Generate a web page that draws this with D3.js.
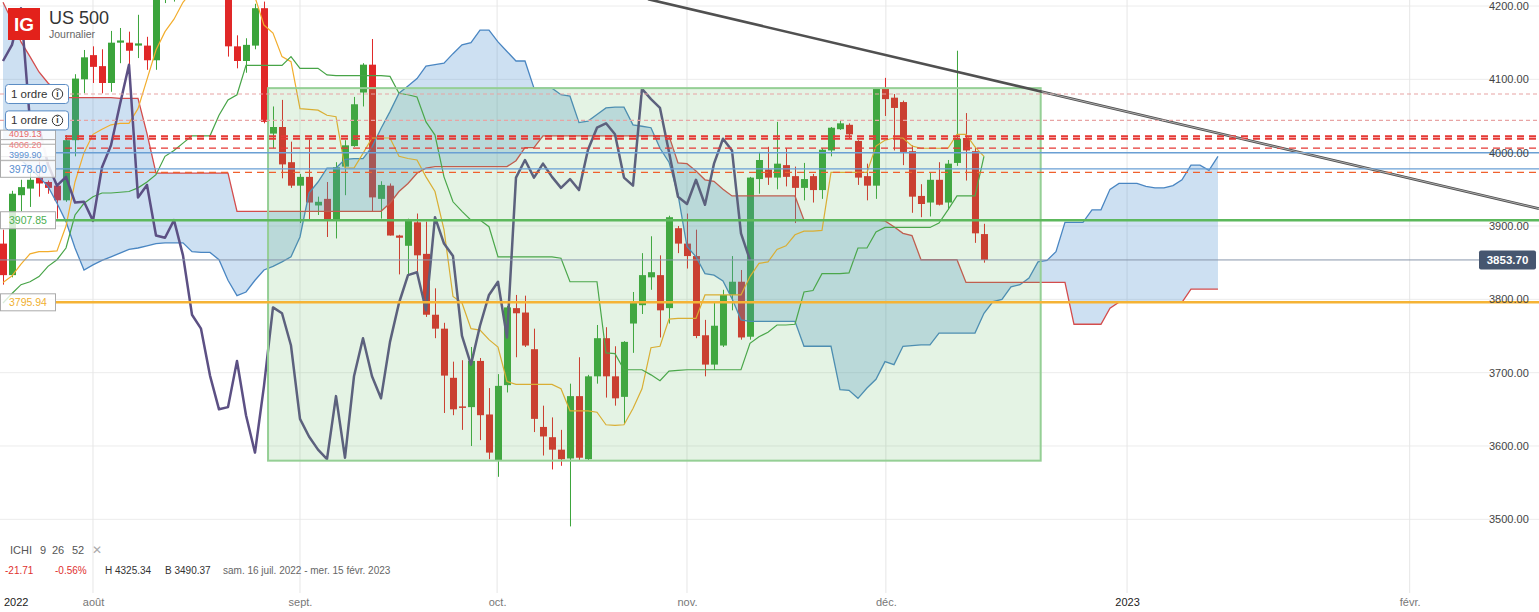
<!DOCTYPE html>
<html>
<head>
<meta charset="utf-8">
<script src="https://cdn.jsdelivr.net/npm/d3@7"></script>
<style>
  body { margin: 0; background: #fff; font-family: "Liberation Sans", Arial, sans-serif; }
  svg { display: block; }
</style>
</head>
<body>
<script>
// US 500 daily bars, one per weekday from 18 juil. to 16 déc. 2022
const opens = [3876,3833,3942,3951,3966,3960,3955,3935,4017,4100,
  4133,4118,4095,4150,4150,4146,4146,4126,4211,4216,
  4280,4297,4305,4274,4284,4226,4145,4125,4146,4197,
  4026,4035,3987,3955,3967,3928,3937,3907,3981,4009,
  4082,4120,3937,3955,3887,3873,3905,3862,3779,3760,
  3693,3654,3653,3716,3643,3580,3683,3788,3782,3732,
  3626,3612,3595,3583,3668,3582,3695,3747,3695,3667,
  3767,3792,3830,3833,3788,3897,3876,3859,3751,3711,
  3737,3806,3824,3749,3964,3977,3966,3983,3968,3952,
  3968,3949,4003,4032,4038,4016,3968,3955,4088,4075,
  4069,4002,3941,3932,3963,3932,3986,4020,4002,3889];
const highs = [3895,3948,3963,3972,4012,3962,3958,4024,4107,4140,
  4145,4141,4166,4170,4165,4188,4158,4218,4258,4282,
  4302,4325.34,4310,4293,4287,4230,4160,4156,4203,4206,
  4063,4072,4015,3971,4018,3940,3960,3987,4017,4076,
  4122,4155,3961,3958,3888,3910,3917,3906,3815,3768,
  3715,3717,3735,3720,3679,3698,3791,3806,3805,3760,
  3655,3639,3622,3685,3721,3697,3765,3762,3736,3743,
  3810,3863,3886,3860,3914,3900,3917,3895,3772,3797,
  3813,3859,3840,3967,4001,4008,4042,4006,3981,3986,
  3971,4006,4035,4044,4040,4017,3985,4088,4102,4080,
  4071,4010,3957,3973,3987,3990,4139,4054,4008,3903];
const lows = [3820,3830,3920,3926,3940,3944,3910,3933,3995,4081,
  4095,4081,4083,4122,4120,4129,4113,4113,4204,4206,
  4258,4277,4254,4262,4218,4131,4115,4109,4141,4040,
  4006,3965,3952,3904,3908,3915,3885,3883,3942,4008,
  4063,3920,3910,3887,3834,3832,3830,3776,3747,3645,
  3642,3622,3600,3608,3582,3558,3673,3721,3735,3619,
  3587,3568,3573,3490.37,3581,3580,3685,3666,3655,3630,
  3727,3780,3813,3748,3767,3863,3842,3747,3695,3704,
  3735,3785,3745,3745,3944,3956,3950,3954,3904,3935,
  3932,3937,3995,4031,4019,3956,3935,3937,4050,4003,
  3983,3918,3912,3913,3928,3922,3982,3962,3877,3850];
const closes = [3833,3944,3953,3963,3958,3952,3935,4017,4101,4130,
  4117,4095,4150,4153,4139,4149,4126,4212,4216,4280,
  4297,4305,4274,4284,4229,4145,4125,4147,4197,4042,
  4035,3984,3955,3967,3932,3933,3907,3980,4010,4066,
  4120,3939,3956,3887,3884,3908,3860,3779,3760,3696,
  3650,3653,3716,3642,3591,3682,3789,3781,3737,3637,
  3613,3595,3582,3668,3584,3695,3747,3695,3665,3742,
  3795,3833,3837,3785,3912,3876,3859,3750,3711,3764,
  3806,3824,3748,3966,3990,3966,3985,3967,3952,3964,
  3949,4004,4034,4040,4025,3966,3955,4087,4073,4061,
  4001,3940,3930,3963,3929,3985,4019,4003,3890,3853.7];

// Ichimoku 9 26 52
const tenkan = [3823,3832,3848,3862,3865,3865,3866,3900,3960,4000,
  4025,4032,4038,4040,4040,4060,4100,4140,4165,4182,
  4205,4220,4232,4240,4240,4232,4225,4218,4212,4174,
  4163,4131,4124,4060,4059,4058,4051,4049,3979,3979,
  3999,4020,4020,4020,3995,3992,3990,3967,3947,3895,
  3804,3795,3760,3758,3745,3735,3688,3684,3684,3684,
  3684,3684,3678,3648,3648,3648,3646,3629,3628,3629,
  3651,3678,3734,3736,3773,3774,3774,3774,3806,3806,
  3806,3806,3806,3831,3849,3851,3868,3873,3888,3893,
  3893,3894,3973,3973,3973,3973,3973,4009,4017,4020,
  4020,4009,4006,4006,4006,4006,4025,4025,4008,3995];
const kijun = [3795,3808,3820,3824,3831,3845,3854,3870,3915,3931,
  3940,3945,3945,3946,3947,3952,3960,3970,3995,4003,
  4013,4023,4023,4023,4051,4072,4079,4119,4119,4119,
  4119,4119,4131,4115,4115,4115,4106,4105,4105,4105,
  4105,4105,4105,4104,4081,4079,4076,4042,4024,3967,
  3933,3920,3908,3908,3899,3858,3858,3858,3858,3858,
  3858,3858,3856,3824,3824,3824,3824,3727,3726,3704,
  3704,3704,3697,3689,3702,3703,3704,3704,3704,3704,
  3704,3704,3704,3740,3749,3755,3765,3765,3766,3810,
  3812,3835,3835,3835,3836,3870,3870,3892,3898,3898,
  3898,3898,3898,3898,3904,3922,3941,3941,3941,3995];
const senkouA = [4013,4001,3990,3979,3967,3954,3931,3906,3870,3840,
  3847,3853,3858,3863,3868,3870,3873,3876,3877,3877,
  3877,3865,3864,3864,3854,3826,3805,3810,3826,3840,
  3845,3851,3858,3885,3945,3960,3979,3979,3991,3992,
  3992,4008,4033,4056,4081,4091,4101,4118,4120,4122,
  4135,4147,4150,4167,4167,4151,4138,4125,4125,4088,
  4088,4088,4079,4077,4041,4043,4052,4061,4062,4062,
  4038,4036,4034,4006,3987,3943,3872,3858,3835,3833,
  3825,3801,3772,3770,3770,3770,3770,3770,3770,3736,
  3736,3736,3736,3677,3676,3665,3679,3691,3715,3711,
  3736,3737,3738,3738,3754,3754,3754,3754,3754,3781,
  3797,3800,3817,3820,3829,3851,3853,3865,3905,3905,
  3905,3922,3922,3950,3958,3958,3958,3954,3952,3952,
  3955,3963,3983,3983,3976,3995];
const senkouB = [4205,4180,4151,4131,4110,4095,4083,4075,4075,4075,
  4075,4075,4075,4074,4074,4074,4026,3972,3972,3972,
  3972,3972,3972,3972,3972,3972,3920,3920,3920,3920,
  3920,3920,3920,3920,3920,3920,3920,3920,3920,3920,
  3920,3920,3920,3931,3947,3958,3972,3979,3981,3981,
  3981,3981,3981,3981,3981,3981,3981,3989,4007,4007,
  4023,4023,4023,4023,4023,4023,4023,4023,4023,4023,
  4023,4023,4023,4023,4023,3986,3985,3975,3963,3961,
  3950,3941,3941,3941,3941,3941,3941,3941,3941,3908,
  3908,3908,3908,3908,3908,3908,3908,3908,3907,3899,
  3890,3887,3854,3854,3854,3854,3854,3823,3823,3823,
  3823,3823,3823,3823,3823,3823,3823,3823,3823,3766,
  3766,3766,3766,3788,3796,3796,3796,3796,3796,3796,
  3796,3796,3814,3814,3814,3814];
const chikouShift = 26;

// axes
const priceTicks = [3500, 3600, 3700, 3800, 3900, 4000, 4100, 4200];
const monthTickIdx = [10, 33, 54.9, 76, 98.1, 124.9, 156.3];
const monthTickLabels = ["août", "sept.", "oct.", "nov.", "déc.", "2023", "févr."];

// drawings on the chart
const orderLevels = [4080, 4044];
const dashedLevels = [4022.5, 4019.13, 4006.20, 3973];
const blueLevels = [3999.90, 3978.00];
const tagLevels = [4019.13, 4006.20, 3999.90, 3978.00, 3907.85, 3795.94];
const tagColors = ["#e86a6a", "#ee8080", "#5b8fd0", "#5b8fd0", "#4caf50", "#f0b030"];
const greenLevel = 3907.85;
const orangeLevel = 3795.94;
const lastPrice = 3853.70;
const boxIdx = [29.45, 115.3];
const boxPrice = [4088, 3580];
const trendIdx = [71.67, 170.67];
const trendPrice = [4209.3, 3923.7];

const W = 1539, H = 612;
const svg = d3.select("body").append("svg").attr("width", W).attr("height", H);

const x = d3.scaleLinear().domain([0, 170.67]).range([3, 1539]);
const y = d3.scaleLinear().domain([3500, 4200]).range([519.33, 6]);

const defs = svg.append("defs");
defs.append("clipPath").attr("id", "plot")
  .append("rect").attr("x", 0).attr("y", 0).attr("width", W).attr("height", 540);
defs.append("clipPath").attr("id", "outbox")
  .append("rect").attr("x", x(boxIdx[1]) + 1).attr("y", 0).attr("width", W).attr("height", 540);

// grid
const grid = svg.append("g");
grid.selectAll(".hg").data(priceTicks).enter().append("line")
  .attr("x1", 0).attr("x2", W).attr("y1", d => y(d)).attr("y2", d => y(d))
  .attr("stroke", "#ececec").attr("stroke-width", 1);
grid.selectAll(".vg").data(monthTickIdx).enter().append("line")
  .attr("x1", d => x(d)).attr("x2", d => x(d)).attr("y1", 0).attr("y2", 593)
  .attr("stroke", "#e6e6e6").attr("stroke-width", 1);

const plot = svg.append("g").attr("clip-path", "url(#plot)");

// candles
const bars = closes.map((c, i) => ({ i, o: opens[i], h: highs[i], l: lows[i], c }));
const up = "#3ba43b", down = "#e02828";
plot.selectAll(".wick").data(bars).enter().append("line")
  .attr("x1", d => x(d.i) + 0.5).attr("x2", d => x(d.i) + 0.5)
  .attr("y1", d => y(d.h)).attr("y2", d => y(d.l))
  .attr("stroke", d => d.c >= d.o ? up : down).attr("stroke-width", 1);
plot.selectAll(".body").data(bars).enter().append("rect")
  .attr("x", d => x(d.i) - 3).attr("width", 7)
  .attr("y", d => y(Math.max(d.o, d.c)))
  .attr("height", d => Math.max(1.5, Math.abs(y(d.o) - y(d.c))))
  .attr("fill", d => d.c >= d.o ? up : down);

// cloud
const cloud = senkouA.map((a, i) => ({ i, a, b: senkouB[i] }));
plot.append("path").datum(cloud)
  .attr("d", d3.area().x(d => x(d.i)).y0(d => y(d.a)).y1(d => y(d.b)))
  .attr("fill", "#4a8fd0").attr("fill-opacity", 0.28);
const line = d3.line().x(d => x(d[0])).y(d => y(d[1]));
plot.append("path").datum(senkouA.map((v, i) => [i, v]))
  .attr("d", line).attr("fill", "none").attr("stroke", "#4a86c2").attr("stroke-width", 1.3);
plot.append("path").datum(senkouB.map((v, i) => [i, v]))
  .attr("d", line).attr("fill", "none").attr("stroke", "#d44c4c").attr("stroke-width", 1.3);

// tenkan / kijun
plot.append("path").datum(tenkan.map((v, i) => [i, v]))
  .attr("d", line).attr("fill", "none").attr("stroke", "#f2ad2c").attr("stroke-width", 1.2);
plot.append("path").datum(kijun.map((v, i) => [i, v]))
  .attr("d", line).attr("fill", "none").attr("stroke", "#47a447").attr("stroke-width", 1.2);

// chikou span: close plotted 26 bars back
const chikou = closes.slice(chikouShift).map((v, i) => [i, v]);
plot.append("path").datum(chikou)
  .attr("d", line).attr("fill", "none").attr("stroke", "#5c5084").attr("stroke-width", 2.5)
  .attr("stroke-linejoin", "round");

// selection box
plot.append("rect")
  .attr("x", x(boxIdx[0])).attr("width", x(boxIdx[1]) - x(boxIdx[0]))
  .attr("y", y(boxPrice[0])).attr("height", y(boxPrice[1]) - y(boxPrice[0]))
  .attr("fill", "#5cb85c").attr("fill-opacity", 0.17)
  .attr("stroke", "#95cf95").attr("stroke-width", 2);

// horizontal levels
const lv = svg.append("g");
lv.selectAll(".ord").data(orderLevels).enter().append("line")
  .attr("x1", 0).attr("x2", W).attr("y1", d => y(d)).attr("y2", d => y(d))
  .attr("stroke", "#e8a4a4").attr("stroke-width", 1.2).attr("stroke-dasharray", "4,3");
lv.selectAll(".dsh").data(dashedLevels).enter().append("line")
  .attr("x1", 65).attr("x2", W).attr("y1", d => y(d)).attr("y2", d => y(d))
  .attr("stroke", (d, i) => i === 3 ? "#f0602c" : "#e53935")
  .attr("stroke-width", (d, i) => i < 2 ? 2 : 1.2).attr("stroke-dasharray", "7,5");
lv.selectAll(".blu").data(blueLevels).enter().append("line")
  .attr("x1", 55).attr("x2", W).attr("y1", d => y(d)).attr("y2", d => y(d))
  .attr("stroke", "#6a9fd4").attr("stroke-width", 1.3);
lv.append("line").attr("x1", 0).attr("x2", 1479).attr("y1", y(lastPrice)).attr("y2", y(lastPrice))
  .attr("stroke", "#8896ab").attr("stroke-width", 1);
lv.append("line").attr("x1", 55).attr("x2", W).attr("y1", y(greenLevel)).attr("y2", y(greenLevel))
  .attr("stroke", "#5cb85c").attr("stroke-width", 2.5);
lv.append("line").attr("x1", 55).attr("x2", W).attr("y1", y(orangeLevel)).attr("y2", y(orangeLevel))
  .attr("stroke", "#f5b335").attr("stroke-width", 2.5);

// trend line
const trend = trendIdx.map((d, i) => [d, trendPrice[i]]);
plot.append("path").datum(trend).attr("d", line)
  .attr("stroke", "#505050").attr("stroke-width", 2.6).attr("fill", "none");
svg.append("g").attr("clip-path", "url(#outbox)")
  .append("path").datum(trend).attr("d", line)
  .attr("stroke", "#b8b8b8").attr("stroke-width", 0.9).attr("fill", "none");

// level tags on the left; the three stacked ones near 4000 share the space
const tags = svg.append("g");
const stackedBase = [137, 147.5, 158];
tagLevels.forEach((v, i) => {
  tags.append("rect").attr("x", 0.5).attr("y", y(v) - 8.5).attr("width", 55).attr("height", 17)
    .attr("fill", "#fff").attr("fill-opacity", 0.8).attr("stroke", "#aaa");
});
tagLevels.forEach((v, i) => {
  const stacked = i < 3;
  tags.append("text").attr("x", 9)
    .attr("y", stacked ? stackedBase[i] : y(v) + 4)
    .attr("font-size", stacked ? 9 : 10.5)
    .attr("fill", tagColors[i]).text(d3.format(".2f")(v));
});

// order boxes
orderLevels.forEach(v => {
  const g = svg.append("g");
  g.append("rect").attr("x", 5.5).attr("y", y(v) - 9.5).attr("width", 63).attr("height", 19).attr("rx", 3)
    .attr("fill", "#fff").attr("stroke", "#5b8cc4");
  g.append("text").attr("x", 11).attr("y", y(v) + 4).attr("font-size", 11.5).attr("fill", "#333").text("1 ordre");
  g.append("circle").attr("cx", 57.5).attr("cy", y(v)).attr("r", 5.2)
    .attr("fill", "none").attr("stroke", "#333").attr("stroke-width", 1);
  g.append("text").attr("x", 57.5).attr("y", y(v) + 3).attr("font-size", 8.5).attr("font-weight", "bold")
    .attr("text-anchor", "middle").attr("fill", "#333").text("i");
});

// right price axis
const yAxis = svg.append("g").attr("transform", "translate(1487,0)")
  .call(d3.axisRight(y).tickValues(priceTicks).tickFormat(d3.format(".2f")).tickSize(0).tickPadding(2));
yAxis.select(".domain").remove();
yAxis.selectAll("text").attr("font-size", 11).attr("fill", "#444")
  .attr("font-family", "Liberation Sans, Arial, sans-serif");

// last price tag
svg.append("rect").attr("x", 1479).attr("y", y(lastPrice) - 9.5).attr("width", 57).attr("height", 19)
  .attr("rx", 2).attr("fill", "#46566f");
svg.append("text").attr("x", 1507.5).attr("y", y(lastPrice) + 4).attr("text-anchor", "middle")
  .attr("font-size", 11.5).attr("font-weight", "bold").attr("fill", "#fff").text(d3.format(".2f")(lastPrice));

// bottom time axis
const xAxis = svg.append("g").attr("transform", "translate(0,590)")
  .call(d3.axisBottom(x).tickValues(monthTickIdx).tickFormat((d, i) => monthTickLabels[i]).tickSize(0).tickPadding(8));
xAxis.select(".domain").remove();
xAxis.selectAll("text").attr("font-size", 11)
  .attr("font-family", "Liberation Sans, Arial, sans-serif")
  .attr("fill", (d, i) => /^\d+$/.test(monthTickLabels[i]) ? "#222" : "#777");
svg.append("text").attr("x", 4).attr("y", 606).attr("font-size", 11).attr("fill", "#222").text("2022");

// header
svg.append("rect").attr("x", 8).attr("y", 8).attr("width", 32).attr("height", 32).attr("fill", "#e3211b");
svg.append("text").attr("x", 24).attr("y", 31).attr("text-anchor", "middle").attr("font-size", 19)
  .attr("font-weight", "bold").attr("fill", "#fff").text("IG");
svg.append("text").attr("x", 49).attr("y", 24).attr("font-size", 18).attr("fill", "#333").text("US 500");
svg.append("text").attr("x", 49).attr("y", 38).attr("font-size", 10.5).attr("fill", "#666").text("Journalier");

// indicator legend
const leg = svg.append("g").attr("font-size", 11).attr("fill", "#555");
leg.append("text").attr("x", 10).attr("y", 554).text("ICHI");
leg.append("text").attr("x", 40).attr("y", 554).text("9");
leg.append("text").attr("x", 52).attr("y", 554).text("26");
leg.append("text").attr("x", 72).attr("y", 554).text("52");
leg.append("text").attr("x", 92).attr("y", 554).attr("fill", "#aaa").attr("font-size", 12).text("✕");
const info = svg.append("g").attr("font-size", 10);
info.append("text").attr("x", 5).attr("y", 574).attr("fill", "#e03030").text("-21.71");
info.append("text").attr("x", 55).attr("y", 574).attr("fill", "#e03030").text("-0.56%");
info.append("text").attr("x", 105).attr("y", 574).attr("fill", "#333").text("H 4325.34");
info.append("text").attr("x", 165).attr("y", 574).attr("fill", "#333").text("B 3490.37");
info.append("text").attr("x", 223).attr("y", 574).attr("fill", "#666").text("sam. 16 juil. 2022 - mer. 15 févr. 2023");
</script>
</body>
</html>
